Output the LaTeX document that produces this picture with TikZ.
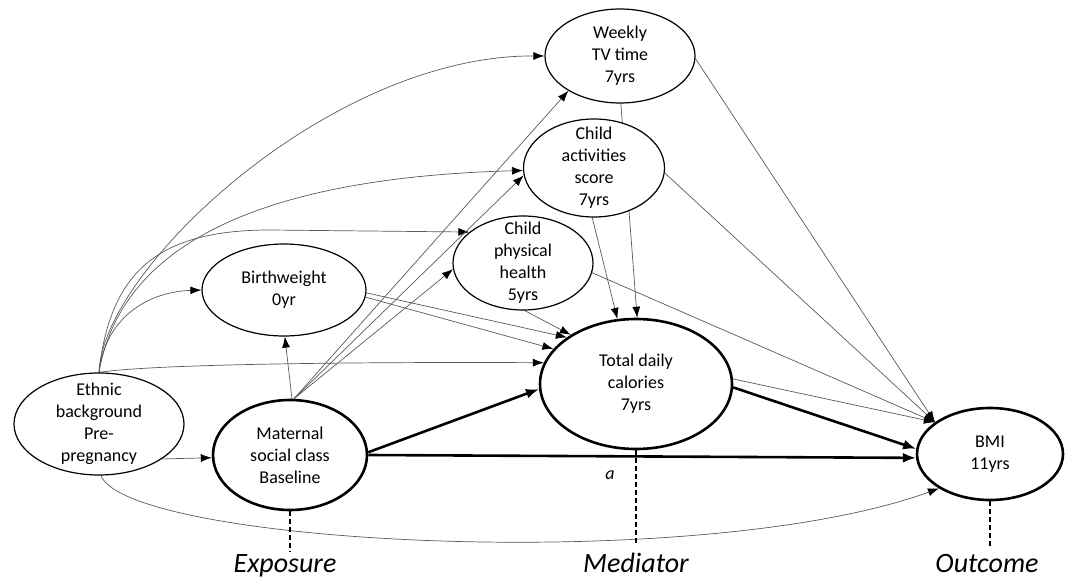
\documentclass[tikz,border=0pt]{standalone}
\usepackage{fontspec}
\setmainfont{Carlito}
\usetikzlibrary{arrows.meta,shapes.geometric,backgrounds}

\begin{document}
\begin{tikzpicture}[x=1pt,y=-1pt,
  nodetext/.style={align=center,inner sep=0pt,font=\fontsize{18}{22}\selectfont},
  varnode/.style={ellipse,draw,fill=white,line width=1.2pt,inner sep=0pt,label={[nodetext]center:#1}},
  keynode/.style={varnode={#1},line width=2.6pt},
  role/.style={anchor=base,inner sep=2pt,font=\fontsize{28}{34}\selectfont\itshape},
  link/.style={draw=black!65,line width=.7pt,-{Latex[length=11pt,width=8pt,color=black]}},
  mainlink/.style={line width=2.6pt,-{Latex[length=13pt,width=10pt]}},
  ruler/.style={line width=1.1pt,dash pattern=on 5pt off 3pt}]
\path[use as bounding box] (0,0) rectangle (1068,577);
\node[varnode={Weekly\\TV time\\7yrs},minimum width=150pt,minimum height=94pt] (tv) at (620,56) {};
\node[varnode={Child\\activities\\score\\7yrs},minimum width=141pt,minimum height=98pt] (act) at (594,168) {};
\node[varnode={Child\\physical\\health\\5yrs},minimum width=140pt,minimum height=94pt] (phys) at (523,263) {};
\node[varnode={Birthweight\\0yr},minimum width=164pt,minimum height=92pt] (bw) at (284,290) {};
\node[varnode={Ethnic\\background\\Pre-\\pregnancy},minimum width=170pt,minimum height=102pt] (eth) at (99,424) {};
\node[keynode={Maternal\\social class\\Baseline},minimum width=154pt,minimum height=110pt] (mat) at (290,455) {};
\node[keynode={Total daily\\calories\\7yrs},minimum width=192pt,minimum height=130pt] (cal) at (636,384) {};
\node[keynode={BMI\\11yrs},minimum width=146pt,minimum height=92pt] (bmi) at (990,454) {};
\node[font=\fontsize{18}{22}\selectfont\itshape] (pa) at (610,475) {a};
\node[role] (expo) at (285,572) {Exposure};
\node[role] (medi) at (636,572) {Mediator};
\node[role] (outc) at (987,572) {Outcome};
\begin{scope}[on background layer]
\draw[link] (eth.north) .. controls (102,270) and (330,55) .. (tv.west);
\draw[link] (eth.north) .. controls (120,250) and (250,178) .. (act.182);
\draw[link] (eth.north) .. controls (110,270) and (160,230) .. (270,230) -- (phys.150);
\draw[link] (eth.north) .. controls (105,320) and (145,292) .. (bw.west);
\draw[link] (eth.north) .. controls (160,363) and (400,362) .. (cal.167);
\draw[link] (eth.-29) -- (mat.182);
\draw[link] (eth.-88) .. controls (130,545) and (700,575) .. (bmi.214);
\draw[link] (mat.88) -- (bw.-89);
\draw[link] (mat.86) -- (tv.214);
\draw[link] (mat.86) -- (act.186);
\draw[link] (mat.86) -- (phys.185);
\draw[link] (bw.-2) -- (cal.146);
\draw[link] (bw.-5) -- (cal.157);
\draw[link] (phys.-88) -- (cal.143);
\draw[link] (act.-92) -- (cal.106);
\draw[link] (tv.-89) -- (cal.89);
\draw[link] (tv.-2) -- (bmi.150);
\draw[link] (act.-4) -- (bmi.150);
\draw[link] (phys.-8) -- (bmi.150);
\draw[link] (cal.3) -- (bmi.150);
\draw[mainlink] (mat.2) -- (cal.183);
\draw[mainlink] (mat.east) -- (bmi.183);
\draw[mainlink] (cal.-2) -- (bmi.176);
\draw[ruler] (mat.south) -- (mat.south |- expo.north);
\draw[ruler,shorten >=6pt] (cal.south) -- (medi.north);
\draw[ruler,shorten >=6pt] (bmi.south) -- (bmi.south |- outc.north);
\end{scope}
\end{tikzpicture}
\end{document}
